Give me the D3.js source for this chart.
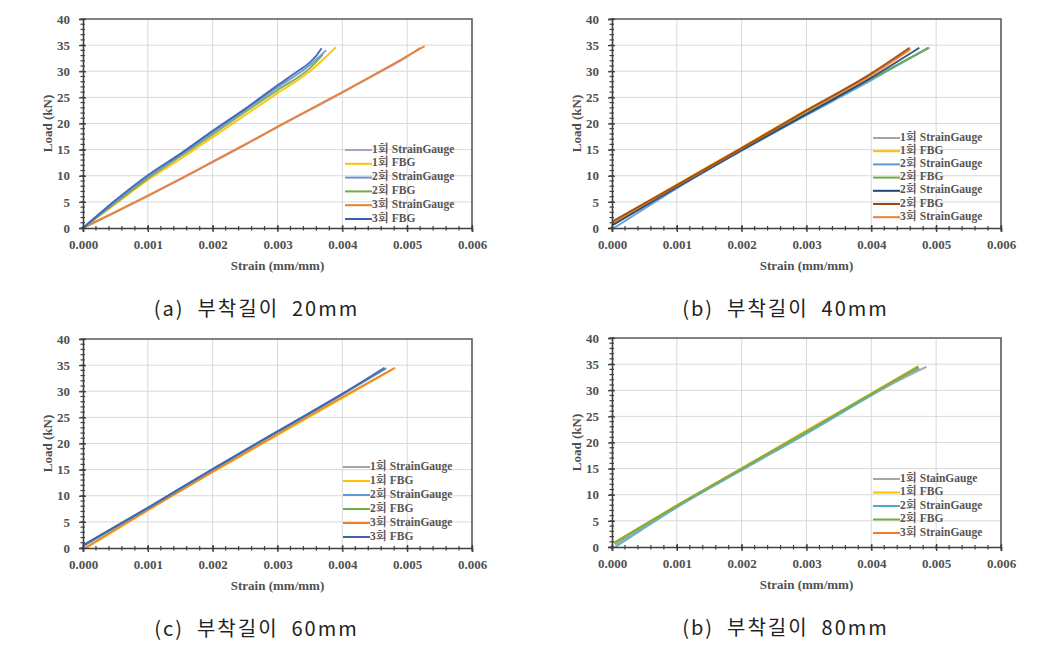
<!DOCTYPE html>
<html><head><meta charset="utf-8">
<script src="https://cdn.jsdelivr.net/npm/d3@7"></script>
<style>html,body{margin:0;padding:0;background:#fff;}svg{display:block;}</style>
</head><body>
<svg id="chart" width="1038" height="657"></svg>
<script>
// ---- tick labels / categories ----
const xTicks = [0, 0.001, 0.002, 0.003, 0.004, 0.005, 0.006];
const yTicks = [0, 5, 10, 15, 20, 25, 30, 35, 40];
const captions = ["(a)  부착길이  20mm", "(b)  부착길이  40mm", "(c)  부착길이  60mm", "(b)  부착길이  80mm"];
const xTitle = "Strain (mm/mm)";
const yTitle = "Load (kN)";

// ---- series (strain, load kN) ----
// (a) 20mm
const a_sg1  = [[0,0],[0.0005,3.0],[0.001,6.1],[0.0015,9.3],[0.002,12.6],[0.0025,15.9],[0.003,19.3],[0.0035,22.6],[0.004,25.9],[0.0045,29.3],[0.005,32.8],[0.0052,34.5]];
const a_fbg1 = [[0,0],[0.0005,4.6],[0.001,9.2],[0.0015,13.2],[0.002,17.4],[0.0025,21.6],[0.003,25.8],[0.0035,30.0],[0.0039,34.6]];
const a_sg2  = [[0,0],[0.0005,5.0],[0.001,9.8],[0.0015,14.0],[0.002,18.3],[0.0025,22.6],[0.003,26.9],[0.0035,31.2],[0.00375,34.0]];
const a_fbg2 = [[0,0],[0.0005,4.8],[0.001,9.5],[0.0015,13.7],[0.002,17.9],[0.0025,22.2],[0.003,26.4],[0.0035,30.6],[0.0037,33.2]];
const a_sg3  = [[0,0],[0.0005,3.1],[0.001,6.2],[0.0015,9.4],[0.002,12.7],[0.0025,16.0],[0.003,19.4],[0.0035,22.7],[0.004,26.0],[0.0045,29.4],[0.005,32.9],[0.00527,34.8]];
const a_fbg3 = [[0,0],[0.0005,5.3],[0.001,10.1],[0.0015,14.2],[0.002,18.6],[0.0025,22.8],[0.003,27.3],[0.0033,29.9],[0.0035,31.7],[0.0036,33.0],[0.00368,34.4]];
// (b) 40mm
const b_sg1  = [[0,0.5],[0.001,7.9],[0.002,15.0],[0.003,22.0],[0.004,28.6],[0.0049,34.5]];
const b_fbg1 = [[0,1.0],[0.001,8.3],[0.002,15.4],[0.003,22.6],[0.004,29.4],[0.0046,34.3]];
const b_sg2  = [[0.00003,0],[0.001,7.6],[0.002,14.8],[0.003,21.6],[0.004,28.3],[0.00488,34.5]];
const b_fbg2 = [[0,0.6],[0.001,7.9],[0.002,15.0],[0.003,21.9],[0.004,28.6],[0.00487,34.4]];
const b_sg2b = [[0,0.5],[0.001,7.8],[0.002,14.9],[0.003,21.8],[0.004,28.8],[0.00474,34.5]];
const b_fbg2b= [[0,1.2],[0.001,8.2],[0.002,15.3],[0.003,22.5],[0.004,29.6],[0.00459,34.5]];
const b_sg3  = [[0,1.0],[0.001,8.1],[0.002,15.2],[0.003,22.4],[0.004,29.3],[0.0046,34.2]];
// (c) 60mm
const c_sg1  = [[0,0.3],[0.001,7.6],[0.002,15.0],[0.003,22.2],[0.004,29.4],[0.00466,34.3]];
const c_fbg1 = [[0.00005,0],[0.001,7.2],[0.002,14.5],[0.003,21.6],[0.004,28.7],[0.00482,34.5]];
const c_sg2  = [[0,0.5],[0.001,7.7],[0.002,15.1],[0.003,22.3],[0.004,29.5],[0.00468,34.4]];
const c_fbg2 = [[0,0.4],[0.001,7.6],[0.002,15.0],[0.003,22.2],[0.004,29.4],[0.00467,34.4]];
const c_sg3  = [[0.00003,0],[0.001,7.3],[0.002,14.6],[0.003,21.8],[0.004,28.9],[0.0048,34.4]];
const c_fbg3 = [[0,0.5],[0.001,7.7],[0.002,15.1],[0.003,22.3],[0.004,29.5],[0.00465,34.5]];
// (d) 80mm
const d_sg1  = [[0.00005,0.5],[0.001,7.8],[0.002,14.9],[0.003,22.0],[0.004,29.2],[0.00485,34.5]];
const d_fbg1 = [[0.00003,0.8],[0.001,8.0],[0.002,15.1],[0.003,22.3],[0.004,29.4],[0.00472,34.6]];
const d_sg2  = [[0.00005,0],[0.001,7.6],[0.002,14.7],[0.003,21.7],[0.004,29.0],[0.00474,34.2]];
const d_fbg2 = [[0.00003,0.8],[0.001,7.9],[0.002,15.0],[0.003,22.1],[0.004,29.3],[0.00473,34.5]];
const d_sg3  = [[0.00005,0.5],[0.001,7.8],[0.002,14.9],[0.003,22.0],[0.004,29.2],[0.0047,34.3]];

const panelA = [
  {name:"1회 StrainGauge", color:"#a8a4b8", data:a_sg1},
  {name:"1회 FBG", color:"#ffc000", data:a_fbg1},
  {name:"2회 StrainGauge", color:"#6f93cf", data:a_sg2},
  {name:"2회 FBG", color:"#70ad47", data:a_fbg2},
  {name:"3회 StrainGauge", color:"#ed7d31", data:a_sg3},
  {name:"3회 FBG", color:"#3a5fb5", data:a_fbg3}];
const panelB = [
  {name:"1회 StrainGauge", color:"#a5a5a5", data:b_sg1},
  {name:"1회 FBG", color:"#ffc000", data:b_fbg1},
  {name:"2회 StrainGauge", color:"#5b9bd5", data:b_sg2},
  {name:"2회 FBG", color:"#70ad47", data:b_fbg2},
  {name:"2회 StrainGauge", color:"#264478", data:b_sg2b},
  {name:"2회 FBG", color:"#9e480e", data:b_fbg2b},
  {name:"3회 StrainGauge", color:"#ed7d31", data:b_sg3}];
const panelC = [
  {name:"1회 StrainGauge", color:"#a5a5a5", data:c_sg1},
  {name:"1회 FBG", color:"#ffc000", data:c_fbg1},
  {name:"2회 StrainGauge", color:"#5b9bd5", data:c_sg2},
  {name:"2회 FBG", color:"#70ad47", data:c_fbg2},
  {name:"3회 StrainGauge", color:"#ed7d31", data:c_sg3},
  {name:"3회 FBG", color:"#4060b0", data:c_fbg3}];
const panelD = [
  {name:"1회 StainGauge", color:"#a5a5a5", data:d_sg1},
  {name:"1회 FBG", color:"#ffc000", data:d_fbg1},
  {name:"2회 StrainGauge", color:"#4bacc6", data:d_sg2},
  {name:"2회 FBG", color:"#70ad47", data:d_fbg2},
  {name:"3회 StrainGauge", color:"#ed7d31", data:d_sg3}];

const panels = [
  {x0:83, x1:472, y0:19, y1:228, series:panelA, legX:345, legY:150, legDy:13.8, order:[0,4,1,3,2,5]},
  {x0:612, x1:1001, y0:19, y1:228, series:panelB, legX:873, legY:138, legDy:13.2, order:[0,2,3,4,1,6,5]},
  {x0:83, x1:472, y0:339, y1:548, series:panelC, legX:343, legY:467, legDy:14.0, order:[1,4,0,3,2,5]},
  {x0:612, x1:1001, y0:338, y1:547, series:panelD, legX:873, legY:479, legDy:13.5, order:[4,1,2,0,3]}
];

const svg = d3.select("#chart");
svg.append("rect").attr("width",1038).attr("height",657).attr("fill","#fff");
const serif = "'Liberation Serif','Times New Roman','Noto Serif CJK KR','Noto Sans CJK KR',serif";

panels.forEach((p, i) => {
  const g = svg.append("g");
  const x = d3.scaleLinear().domain([0, 0.006]).range([p.x0, p.x1]);
  const y = d3.scaleLinear().domain([0, 40]).range([p.y1, p.y0]);

  // gridlines
  g.append("g").selectAll("line.gx").data(xTicks.slice(1, -1)).join("line")
    .attr("x1", d => x(d)).attr("x2", d => x(d)).attr("y1", p.y0).attr("y2", p.y1)
    .attr("stroke", "#d9d9d9").attr("stroke-width", 1);
  g.append("g").selectAll("line.gy").data(yTicks.slice(1, -1)).join("line")
    .attr("x1", p.x0).attr("x2", p.x1).attr("y1", d => y(d)).attr("y2", d => y(d))
    .attr("stroke", "#d9d9d9").attr("stroke-width", 1);

  // frame (top/right)
  g.append("path").attr("d", `M${p.x0},${p.y0}H${p.x1}V${p.y1}`)
    .attr("fill", "none").attr("stroke", "#5a5a5a").attr("stroke-width", 1.6);

  // series
  const line = d3.line().x(d => x(d[0])).y(d => y(d[1])).curve(d3.curveMonotoneX);
  p.order.forEach(k => {
    const s = p.series[k];
    g.append("path").datum(s.data).attr("d", line)
      .attr("fill", "none").attr("stroke", s.color).attr("stroke-width", 2)
      .attr("stroke-linejoin", "round").attr("stroke-opacity", 0.9);
  });

  // axes
  const xAxis = d3.axisBottom(x).tickValues(xTicks).tickFormat(d3.format(".3f")).tickSize(4).tickPadding(8);
  const xg = g.append("g").attr("transform", `translate(0,${p.y1})`).call(xAxis);
  const yAxis = d3.axisLeft(y).tickValues(yTicks).tickFormat(d3.format("d")).tickSize(4).tickPadding(9);
  const yg = g.append("g").attr("transform", `translate(${p.x0},0)`).call(yAxis);
  [xg, yg].forEach(ag => {
    ag.select(".domain").attr("stroke", "#404040").attr("stroke-width", 1.6);
    ag.selectAll(".tick line").attr("stroke", "#404040").attr("stroke-width", 1.3);
    ag.selectAll("text").attr("font-family", serif).attr("font-size", 13)
      .attr("font-weight", "bold").attr("fill", "#505050");
  });
  xg.selectAll(".tick line").attr("y1", -3);
  yg.selectAll(".tick line").attr("x1", 3);

  // minor ticks
  const xMinor = d3.range(0, 31).map(j => j * 0.0002);
  g.append("g").selectAll("line").data(xMinor).join("line")
    .attr("x1", d => x(d)).attr("x2", d => x(d)).attr("y1", p.y1 - 2).attr("y2", p.y1 + 2.5)
    .attr("stroke", "#404040").attr("stroke-width", 1.2);
  const yMinor = d3.range(0, 41);
  g.append("g").selectAll("line").data(yMinor).join("line")
    .attr("x1", p.x0 - 2.5).attr("x2", p.x0 + 2).attr("y1", d => y(d)).attr("y2", d => y(d))
    .attr("stroke", "#404040").attr("stroke-width", 1.2);

  // axis titles
  g.append("text").attr("x", (p.x0 + p.x1) / 2).attr("y", p.y1 + 42)
    .attr("text-anchor", "middle").attr("font-family", serif).attr("font-size", 13)
    .attr("font-weight", "bold").attr("fill", "#505050").text(xTitle);
  g.append("text").attr("transform", `translate(${p.x0 - 34},${(p.y0 + p.y1) / 2}) rotate(-90)`)
    .attr("text-anchor", "middle").attr("dominant-baseline", "middle")
    .attr("font-family", serif).attr("font-size", 13).attr("font-weight", "bold")
    .attr("fill", "#505050").text(yTitle);

  // legend
  const lg = g.append("g");
  p.series.forEach((s, k) => {
    const ly = p.legY + k * p.legDy;
    lg.append("line").attr("x1", p.legX).attr("x2", p.legX + 27).attr("y1", ly).attr("y2", ly)
      .attr("stroke", s.color).attr("stroke-width", 2);
    lg.append("text").attr("x", p.legX + 27).attr("y", ly).attr("dominant-baseline", "middle")
      .attr("font-family", serif).attr("font-size", 11.5).attr("font-weight", "bold")
      .attr("fill", "#555").text(s.name);
  });

  // caption
  g.append("text").attr("x", (p.x0 + p.x1) / 2 - 21).attr("y", p.y1 + 88)
    .attr("text-anchor", "middle").attr("font-family", "'Noto Sans CJK KR','Noto Sans',sans-serif")
    .attr("font-size", 20).attr("font-weight", 400).attr("fill", "#222")
    .style("white-space", "pre").attr("letter-spacing", 2).text(captions[i]);
});
</script>
</body></html>
